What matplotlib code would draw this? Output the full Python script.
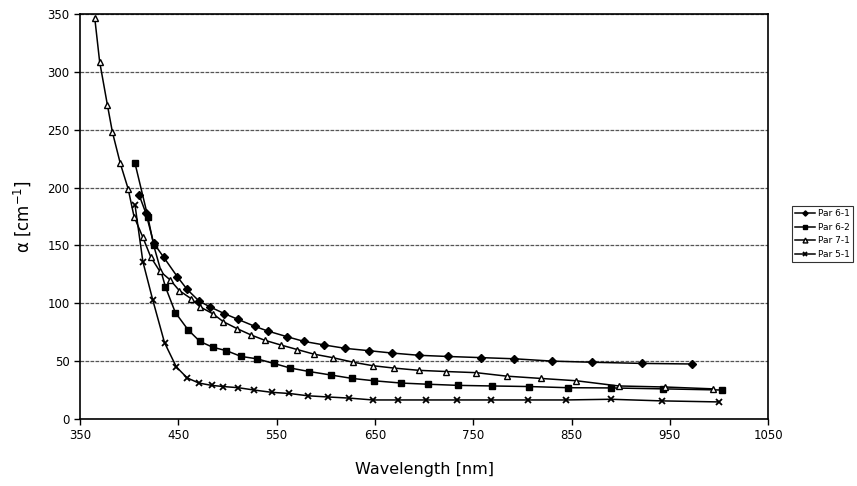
import matplotlib
matplotlib.use("Agg")
import matplotlib.pyplot as plt

# absorption coefficient vs wavelength for four samples
wl_61 = [410, 417, 425, 435, 449, 459, 471, 482, 497, 511, 528, 541, 561, 578, 598,
         620, 644, 667, 695, 724, 758, 792, 830, 871, 922, 973]
a_61 = [194, 178, 152, 140, 123, 112, 102, 97, 91, 86, 80, 76, 71, 67, 64,
        61, 59, 57, 55, 54, 53, 52, 50, 49, 48, 47.5]

wl_62 = [406, 419, 425, 437, 447, 460, 472, 485, 499, 514, 530, 547, 564, 583, 605,
         627, 649, 677, 704, 735, 769, 807, 846, 890, 943, 1003]
a_62 = [221, 175, 150, 114, 92, 77, 67, 62, 59, 54, 52, 48, 44, 41, 38,
        35, 33, 31, 30, 29, 28.5, 28, 27, 26.8, 26, 25]

wl_71 = [365, 370, 378, 383, 391, 399, 405, 414, 422, 431, 442, 451, 463, 472, 485,
         496, 510, 524, 538, 554, 571, 588, 607, 628, 648, 669, 695, 722, 753, 784,
         819, 855, 898, 945, 994]
a_71 = [347, 309, 271, 248, 221, 199, 175, 157, 140, 128, 120, 111, 104, 97, 91,
        84, 78, 72.6, 68, 64, 60, 56, 53, 49, 46, 44, 42, 41, 40, 37,
        35, 33, 28.5, 27.6, 26]

wl_51 = [406, 414, 424, 436, 448, 459, 471, 484, 496, 511, 527, 545, 563, 582, 602,
         624, 648, 674, 702, 734, 768, 806, 844, 890, 942, 1000]
a_51 = [185, 136, 103, 66, 45, 35.5, 31, 29, 28, 27, 25, 23, 22, 20, 19,
        18, 16.4, 16.4, 16.4, 16.4, 16.4, 16.4, 16.4, 17, 15.6, 14.7]

labels = ["Par 6-1", "Par 6-2", "Par 7-1", "Par 5-1"]

plt.rcParams['font.family'] = ['DejaVu Sans']
fig = plt.figure(figsize=(8.57, 4.86), dpi=100)
ax = fig.add_axes([0.0933, 0.138, 0.803, 0.833])

ax.plot(wl_61, a_61, color='black', lw=1.1, marker='D', ms=3.8, mfc='black', label=labels[0])
ax.plot(wl_62, a_62, color='black', lw=1.1, marker='s', ms=5, mfc='black', label=labels[1])
ax.plot(wl_71, a_71, color='black', lw=1.1, marker='^', ms=5, mfc='white', mew=1, label=labels[2])
ax.plot(wl_51, a_51, color='black', lw=1.1, marker='x', ms=5, mew=1.3, label=labels[3])

ax.set_xlim(350, 1050)
ax.set_ylim(0, 350)
ax.set_xticks(range(350, 1051, 100))
ax.set_yticks(range(0, 351, 50))
ax.yaxis.grid(True, color='#555555', lw=0.9, ls=(0, (3, 1)))
ax.set_axisbelow(True)
for s in ax.spines.values():
    s.set_linewidth(1.2)
ax.tick_params(direction='out', length=4, width=1, labelsize=8.5)

ax.set_xlabel("Wavelength [nm]", fontsize=11.5, labelpad=14)
ax.set_ylabel("α [cm$^{-1}$]", fontsize=12, labelpad=10)

leg = fig.legend(loc='upper left', bbox_to_anchor=(0.919, 0.585), fontsize=6.5,
                 frameon=True, fancybox=False, edgecolor='black',
                 handlelength=2.2, handletextpad=0.3, borderpad=0.35,
                 labelspacing=0.5, markerscale=0.7)
leg.get_frame().set_linewidth(0.8)

fig.savefig("out.png", dpi=100)
